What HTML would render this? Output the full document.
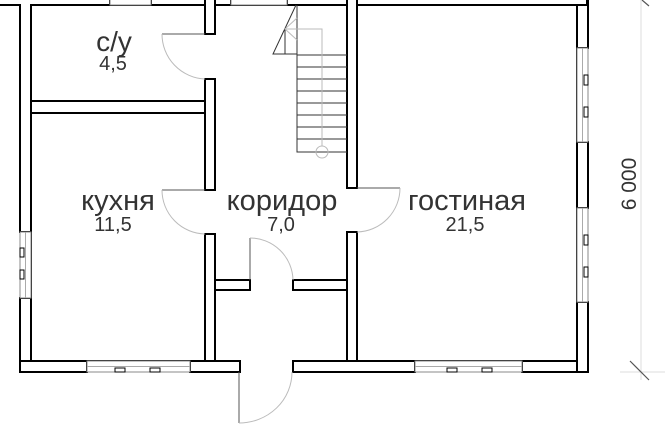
<!DOCTYPE html>
<html><head><meta charset="utf-8"><style>
html,body{margin:0;padding:0;background:#fff;width:665px;height:425px;overflow:hidden}
text{font-family:"Liberation Sans",sans-serif;fill:#333}
</style></head><body>
<svg width="665" height="425" viewBox="0 0 665 425" xmlns="http://www.w3.org/2000/svg">
<g fill="#fff" stroke="#000" stroke-width="2">
<rect x="20" y="-5" width="11" height="237"/>
<rect x="20" y="298" width="11" height="74"/>
<rect x="20" y="361" width="67" height="11"/>
<rect x="190" y="361" width="50" height="11"/>
<rect x="293" y="361" width="122" height="11"/>
<rect x="522" y="361" width="66" height="11"/>
<rect x="577" y="-5" width="11" height="53"/>
<rect x="577" y="142" width="11" height="66"/>
<rect x="577" y="302" width="11" height="70"/>
<rect x="-5" y="-6" width="115" height="11"/>
<rect x="151" y="-6" width="80" height="11"/>
<rect x="287" y="-6" width="300" height="11"/>
<rect x="205" y="-5" width="10" height="39"/>
<rect x="205" y="79" width="10" height="111"/>
<rect x="31" y="101" width="174" height="12"/>
<rect x="205" y="234" width="10" height="127"/>
<rect x="215" y="280" width="35" height="10"/>
<rect x="293" y="280" width="54" height="10"/>
<rect x="347" y="-5" width="10" height="193"/>
<rect x="347" y="232" width="10" height="129"/>
</g>
<g fill="#fff" stroke="none">
<rect x="32" y="6" width="172" height="94"/>
<rect x="32" y="114" width="172" height="246"/>
<rect x="358" y="6" width="218" height="354"/>
<rect x="216" y="6" width="130" height="273"/>
<rect x="216" y="291" width="130" height="69"/>
<rect x="251" y="279" width="41" height="12"/>
<rect x="21" y="-6" width="9" height="12"/>
</g>
<g fill="none" stroke="#000" stroke-width="2">
<path d="M31 5 H205 M215 5 H347 M357 5 H577"/>
<path d="M31 5 V101 M31 113 V361 H205 M215 361 V290 H250 M293 290 H347 V361 M357 361 H577 V5"/>
<path d="M205 5 V34 M215 5 V34 M205 79 V101 M205 113 V190 M215 79 V190 M215 234 V280 H250 M293 280 H347 V232 M347 188 V5 M357 5 V188 M357 232 V361"/>
</g>
<g fill="#fff" stroke="#000" stroke-width="1">
<rect x="20" y="232" width="11" height="66" stroke="#888"/>
<rect x="87" y="361" width="103" height="11" stroke="#888"/>
<rect x="415" y="361" width="107" height="11" stroke="#888"/>
<rect x="577" y="48" width="11" height="94" stroke="#888"/>
<rect x="577" y="208" width="11" height="94" stroke="#888"/>
<rect x="110" y="-6" width="41" height="11" stroke="#888"/>
<rect x="231" y="-6" width="56" height="11" stroke="#888"/>
<path d="M25.5 232 V298 M87 366.5 H190 M415 366.5 H522 M582.5 48 V142 M582.5 208 V302" stroke="#aaa"/>
<rect x="20" y="248" width="4" height="9"/><rect x="20" y="270" width="4" height="9"/>
<rect x="115" y="368" width="10" height="4"/><rect x="150" y="368" width="10" height="4"/>
<rect x="447" y="368" width="10" height="4"/><rect x="482" y="368" width="10" height="4"/>
<rect x="584" y="75" width="4" height="10"/><rect x="584" y="107" width="4" height="10"/>
<rect x="584" y="235" width="4" height="10"/><rect x="584" y="267" width="4" height="10"/>
</g>
<g fill="none" stroke="#555" stroke-width="1">
<path d="M162 34 H205" /><path d="M162 34 A45 45 0 0 0 205 79" stroke="#bbb"/>
<path d="M162 190 H205"/><path d="M162 190 A44 44 0 0 0 205 234" stroke="#bbb"/>
<path d="M400 188 H357"/><path d="M400 188 A44 44 0 0 1 357 232" stroke="#bbb"/>
<path d="M250 238 V280"/><path d="M250 238 A43 43 0 0 1 293 280" stroke="#bbb"/>
<path d="M239 372 V423"/><path d="M239 423 A53 51 0 0 0 292 372" stroke="#bbb"/>
</g>
<g fill="none" stroke="#333" stroke-width="1">
<path d="M297 5 V152 H347"/>
<path d="M297 55 H347 M297 67 H347 M297 79 H347 M297 91 H347 M297 103 H347 M297 115 H347 M297 127 H347 M297 139 H347"/>
<path d="M296 5 L273 54 H297 M285 29 V54"/>
</g>
<g fill="none" stroke="#bbb" stroke-width="1">
<path d="M285 29 H322 V146 M297 18 L285 29 L297 40"/>
<circle cx="322" cy="152" r="6"/>
</g>
<g stroke="#ddd" stroke-width="1" fill="none"><path d="M641 0 V380 M620 372 H665"/></g>
<g stroke="#555" stroke-width="1.2"><path d="M630 361 L649 380 M642 0 L649 6"/></g>
<text x="0" y="0" font-size="21" text-anchor="middle" transform="translate(636,184) rotate(-90)">6 000</text>
<text x="114" y="51" font-size="28" text-anchor="middle">с/у</text>
<text x="113" y="70" font-size="20" text-anchor="middle">4,5</text>
<text x="118" y="210" font-size="29" text-anchor="middle">кухня</text>
<text x="113" y="231" font-size="20" text-anchor="middle">11,5</text>
<text x="282" y="210" font-size="29" text-anchor="middle">коридор</text>
<text x="281" y="231" font-size="20" text-anchor="middle">7,0</text>
<text x="467" y="210" font-size="29" text-anchor="middle">гостиная</text>
<text x="465" y="231" font-size="20" text-anchor="middle">21,5</text>
</svg>
</body></html>
